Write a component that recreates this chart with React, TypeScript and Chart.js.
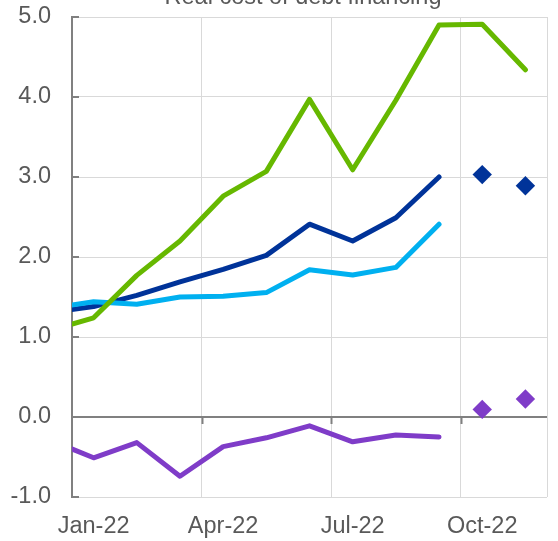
import React, { useEffect, useRef } from 'react';
import { Chart, registerables } from 'chart.js';

Chart.register(...registerables);

const chartTitle = 'Real cost of debt financing';
const leadLabel = 'Dec-21';
const categories = ['Jan-22', 'Feb-22', 'Mar-22', 'Apr-22', 'May-22', 'Jun-22', 'Jul-22', 'Aug-22', 'Sep-22', 'Oct-22', 'Nov-22'];

// Values run Dec-21 .. Nov-22 (Dec-21 only enters from the left edge)
const greenSeries = [1.08, 1.24, 1.77, 2.2, 2.76, 3.07, 3.97, 3.09, 3.96, 4.9, 4.91, 4.34];
const darkBlueSeries = [1.31, 1.38, 1.52, 1.69, 1.845, 2.02, 2.41, 2.2, 2.49, 3.0, null, null];
const lightBlueSeries = [1.36, 1.44, 1.41, 1.5, 1.51, 1.555, 1.84, 1.775, 1.87, 2.41, null, null];
const purpleSeries = [-0.29, -0.51, -0.32, -0.74, -0.37, -0.26, -0.11, -0.31, -0.225, -0.25, null, null];

// Diamond markers for Oct-22, Nov-22
const markerMonths = ['Oct-22', 'Nov-22'];
const darkBlueMarkers = [3.03, 2.89];
const purpleMarkers = [0.095, 0.225];

const yTicks = [-1, 0, 1, 2, 3, 4, 5];
const labelEvery = 3;

const GREEN = '#66B800';
const DARK_BLUE = '#003399';
const LIGHT_BLUE = '#00B0F0';
const PURPLE = '#7F3CC8';
const TEXT = '#595959';
const GRID = '#d9d9d9';
const AXIS = '#808080';
const FONT = "'Liberation Sans', Arial, sans-serif";

const allMonths = [leadLabel, ...categories];
const toPoints = (vals: (number | null)[]) =>
  vals.map((v, i) => ({ x: i - 1, y: v })).filter((p) => p.y !== null) as { x: number; y: number }[];
const markerPoints = (vals: number[]) => vals.map((v, i) => ({ x: categories.indexOf(markerMonths[i]), y: v }));

const labelIdx = categories.map((_, i) => i).filter((i) => i % labelEvery === 0);
const boundaries = [...labelIdx.map((i) => i - 0.5), categories.length - 0.5];
const xTickValues = [...labelIdx, ...boundaries].sort((a, b) => a - b);

const axisMarks = {
  id: 'axisMarks',
  beforeDatasetsDraw(chart: any) {
    const { ctx, chartArea, scales } = chart;
    const xs = scales.x;
    const ys = scales.y;
    ctx.save();
    ctx.strokeStyle = AXIS;
    ctx.lineWidth = 2;
    const y0 = ys.getPixelForValue(0);
    ctx.beginPath();
    ctx.moveTo(chartArea.left, y0);
    ctx.lineTo(chartArea.right, y0);
    ctx.stroke();
    boundaries.slice(1, -1).forEach((b) => {
      const px = Math.round(xs.getPixelForValue(b)) + 0.5;
      ctx.beginPath();
      ctx.moveTo(px, y0);
      ctx.lineTo(px, y0 + 7);
      ctx.stroke();
    });
    yTicks.forEach((t) => {
      const py = ys.getPixelForValue(t);
      ctx.beginPath();
      ctx.moveTo(chartArea.left, py);
      ctx.lineTo(chartArea.left + 7, py);
      ctx.stroke();
    });
    ctx.restore();
  },
  afterDraw(chart: any) {
    const { ctx } = chart;
    ctx.save();
    ctx.fillStyle = TEXT;
    ctx.font = `23.5px ${FONT}`;
    ctx.textAlign = 'center';
    ctx.textBaseline = 'alphabetic';
    ctx.fillText(chartTitle, 303, 4);
    ctx.restore();
  },
};

const lineDs = (label: string, vals: (number | null)[], color: string) => ({
  type: 'line' as const,
  label,
  data: toPoints(vals),
  borderColor: color,
  backgroundColor: color,
  borderWidth: 5,
  pointRadius: 0,
  pointHoverRadius: 0,
  tension: 0,
  fill: false,
  clip: 0,
  borderCapStyle: 'round' as const,
  borderJoinStyle: 'round' as const,
});

const markerDs = (label: string, vals: number[], color: string) => ({
  type: 'line' as const,
  label,
  data: markerPoints(vals),
  showLine: false,
  pointStyle: 'rectRot' as const,
  pointRadius: 9.7,
  pointHoverRadius: 9.7,
  pointBackgroundColor: color,
  pointBorderWidth: 0,
  borderColor: color,
  backgroundColor: color,
});

export default function App() {
  const ref = useRef<HTMLCanvasElement | null>(null);

  useEffect(() => {
    if (!ref.current) return;
    const chart = new Chart(ref.current, {
      type: 'line',
      data: {
        datasets: [
          lineDs('Green', greenSeries, GREEN),
          lineDs('Light blue', lightBlueSeries, LIGHT_BLUE),
          lineDs('Dark blue', darkBlueSeries, DARK_BLUE),
          lineDs('Purple', purpleSeries, PURPLE),
          markerDs('Dark blue (Oct-Nov)', darkBlueMarkers, DARK_BLUE),
          markerDs('Purple (Oct-Nov)', purpleMarkers, PURPLE),
        ] as any,
      },
      options: {
        animation: false,
        responsive: false,
        layout: { padding: { top: 17, right: 11, left: 0, bottom: 0 } },
        plugins: {
          legend: { display: false },
          tooltip: { enabled: false },
          title: { display: false },
        },
        scales: {
          x: {
            type: 'linear',
            min: -0.5,
            max: categories.length - 0.5,
            afterBuildTicks: (s: any) => {
              s.ticks = xTickValues.map((v) => ({ value: v }));
            },
            afterFit: (s: any) => {
              s.height = 44;
              s.paddingLeft = 0;
              s.paddingRight = 0;
            },
            grid: {
              drawTicks: false,
              lineWidth: 1,
              color: (c: any) => {
                const v = c.tick ? c.tick.value : null;
                if (v === null || v === undefined) return 'rgba(0,0,0,0)';
                if (Number.isInteger(v) || v === -0.5) return 'rgba(0,0,0,0)';
                return GRID;
              },
            },
            border: { display: false },
            ticks: {
              autoSkip: false,
              maxRotation: 0,
              padding: 15,
              color: TEXT,
              font: { family: FONT, size: 23.5 },
              callback: (v: any) => (Number.isInteger(v) ? allMonths[v + 1] : ''),
            },
          },
          y: {
            type: 'linear',
            min: -1,
            max: 5,
            afterBuildTicks: (s: any) => {
              s.ticks = yTicks.map((v) => ({ value: v }));
            },
            afterFit: (s: any) => {
              s.width = 72;
              s.paddingTop = 0;
              s.paddingBottom = 0;
            },
            grid: { drawTicks: false, color: GRID, lineWidth: 1 },
            border: { display: true, color: AXIS, width: 2 },
            ticks: {
              padding: 21,
              color: TEXT,
              font: { family: FONT, size: 23.5 },
              callback: (v: any) => Number(v).toFixed(1),
            },
          },
        },
      } as any,
      plugins: [axisMarks],
    });
    return () => chart.destroy();
  }, []);

  return (
    <div style={{ position: 'absolute', left: 0, top: 0, width: 558, height: 541, background: '#fff' }}>
      <canvas ref={ref} width={558} height={541} style={{ display: 'block' }} />
    </div>
  );
}
